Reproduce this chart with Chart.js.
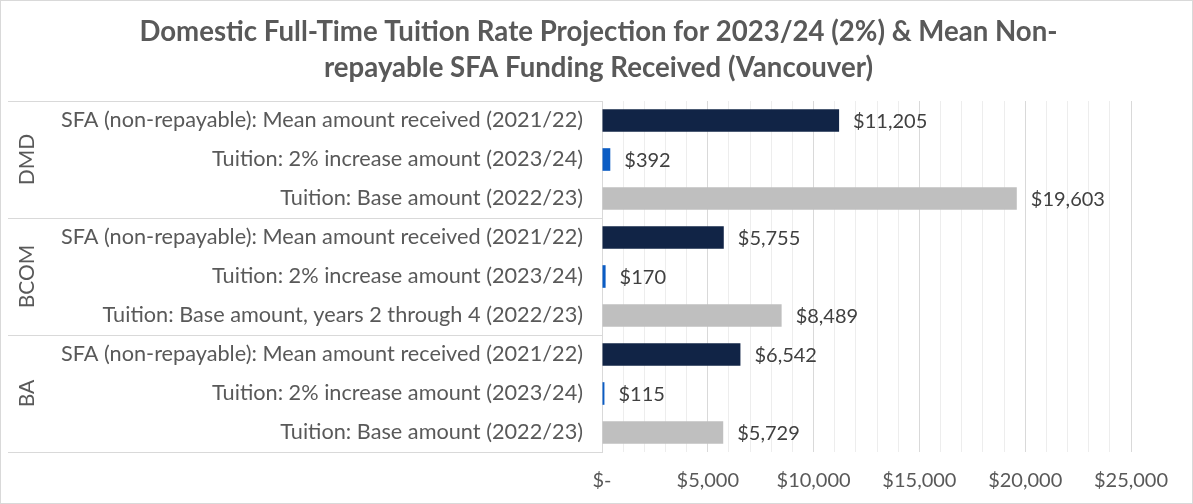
<!DOCTYPE html>
<html>
<head>
<meta charset="utf-8">
<script src="https://cdn.jsdelivr.net/npm/chart.js@4/dist/chart.umd.min.js"></script>
<style>
  html, body { margin: 0; padding: 0; background: #fff; }
  #wrap { width: 1193px; height: 504px; position: relative; }
</style>
</head>
<body>
<div id="wrap"><canvas id="tuitionChart"></canvas></div>
<script>
// program groups, three rows each (top to bottom)
const groups = ['DMD', 'BCOM', 'BA'];
const rowLabels = [
  'SFA (non-repayable): Mean amount received (2021/22)',
  'Tuition: 2% increase amount (2023/24)',
  'Tuition: Base amount (2022/23)',
  'SFA (non-repayable): Mean amount received (2021/22)',
  'Tuition: 2% increase amount (2023/24)',
  'Tuition: Base amount, years 2 through 4 (2022/23)',
  'SFA (non-repayable): Mean amount received (2021/22)',
  'Tuition: 2% increase amount (2023/24)',
  'Tuition: Base amount (2022/23)'
];
const amounts = [11205, 392, 19603, 5755, 170, 8489, 6542, 115, 5729];
const xTicks = [0, 5000, 10000, 15000, 20000, 25000];
const titleLines = [
  'Domestic Full-Time Tuition Rate Projection for 2023/24 (2%) & Mean Non-',
  'repayable SFA Funding Received (Vancouver)'
];

const FONT = 'Lato, "Open Sans", sans-serif';
const rowColors = ['#112446', '#0b5cc4', '#bfbfbf'];

function money(v) {
  if (v === 0) return '$-';
  return '$' + v.toLocaleString('en-US');
}

// value labels at the end of the bars
const valueLabels = {
  id: 'valueLabels',
  afterDatasetsDraw(chart) {
    const ctx = chart.ctx;
    const meta = chart.getDatasetMeta(0);
    ctx.save();
    ctx.font = '20px ' + FONT;
    ctx.fillStyle = '#404040';
    ctx.textAlign = 'left';
    ctx.textBaseline = 'middle';
    meta.data.forEach((bar, i) => {
      ctx.fillText(money(amounts[i]), bar.x + 14, bar.y + 1);
    });
    ctx.restore();
  }
};

// title centred on the whole canvas, group brackets, outer frame
const groupAxis = {
  id: 'groupAxis',
  afterDraw(chart) {
    const ctx = chart.ctx;
    const area = chart.chartArea;
    const y = chart.scales.y;
    const per = rowLabels.length / groups.length;
    ctx.save();

    ctx.font = 'bold 27.6px ' + FONT;
    ctx.fillStyle = '#595959';
    ctx.textAlign = 'center';
    ctx.textBaseline = 'middle';
    titleLines.forEach((line, i) => ctx.fillText(line, chart.width / 2 + 2, 32 + i * 36));

    ctx.strokeStyle = '#d9d9d9';
    ctx.lineWidth = 1;
    const edges = [area.top];
    for (let g = 1; g < groups.length; g++) {
      edges.push((y.getPixelForValue(g * per - 1) + y.getPixelForValue(g * per)) / 2);
    }
    edges.push(area.bottom);
    edges.forEach(e => {
      ctx.beginPath();
      ctx.moveTo(8, Math.round(e) + 0.5);
      ctx.lineTo(area.left, Math.round(e) + 0.5);
      ctx.stroke();
    });
    ctx.font = '21px ' + FONT;
    groups.forEach((name, g) => {
      const mid = (edges[g] + edges[g + 1]) / 2;
      ctx.save();
      ctx.translate(27, mid);
      ctx.rotate(-Math.PI / 2);
      ctx.fillText(name, 0, 0);
      ctx.restore();
    });
    ctx.strokeRect(0.5, 0.5, chart.width - 1, chart.height - 1);
    ctx.restore();
  }
};

new Chart(document.getElementById('tuitionChart'), {
  type: 'bar',
  data: {
    labels: rowLabels,
    datasets: [{
      data: amounts,
      backgroundColor: ctx => rowColors[ctx.dataIndex % 3],
      barPercentage: 0.58,
      categoryPercentage: 1
    }]
  },
  options: {
    indexAxis: 'y',
    responsive: true,
    maintainAspectRatio: false,
    animation: false,
    layout: { padding: { left: 0, right: 62, top: 101, bottom: 0 } },
    plugins: {
      legend: { display: false },
      tooltip: { enabled: false },
      title: { display: false }
    },
    scales: {
      x: {
        min: 0,
        max: 25000,
        grid: {
          color: c => (c.tick && c.tick.value % 5000 === 0) ? '#d9d9d9' : '#ededed',
          drawTicks: false
        },
        border: { display: false },
        ticks: {
          stepSize: 1000,
          autoSkip: false,
          maxRotation: 0,
          padding: 17,
          color: '#595959',
          font: { family: FONT, size: 20 },
          callback: v => xTicks.includes(v) ? money(v) : ''
        },
        afterFit: scale => { scale.height = 52; }
      },
      y: {
        grid: { display: false },
        border: { display: true, color: '#d9d9d9' },
        ticks: {
          padding: 11,
          color: '#595959',
          font: { family: FONT, size: 21.7 }
        },
        afterFit: scale => { scale.width = 602; }
      }
    }
  },
  plugins: [valueLabels, groupAxis]
});
</script>
</body>
</html>
